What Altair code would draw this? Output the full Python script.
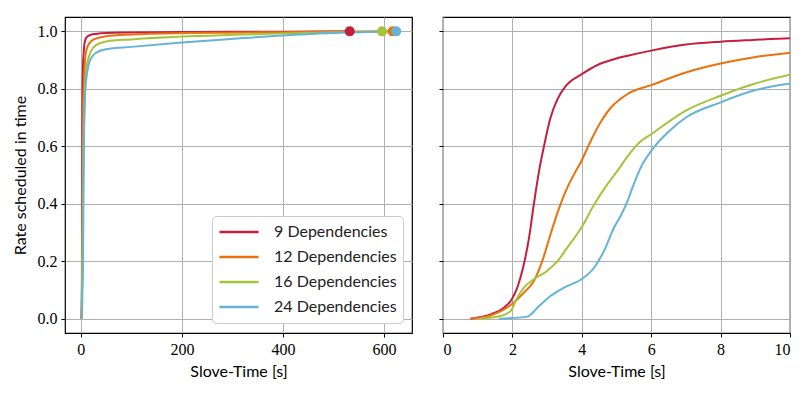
import altair as alt
import pandas as pd

series = ["9 Dependencies", "12 Dependencies", "16 Dependencies", "24 Dependencies"]
colors = ["#c61f3e", "#ea720d", "#a8c23a", "#63b4d6"]

t9 = [0.79, 1.37, 1.75, 1.98, 2.14, 2.33, 2.48, 2.62, 2.77, 2.91, 3.10, 3.30, 3.54, 4.0, 4.45, 4.93, 5.32, 6.0, 7.0, 8.0, 8.93, 10.0,
      12, 15, 20, 30, 50, 100, 200, 400, 532]
r9 = [0.0, 0.015, 0.038, 0.067, 0.108, 0.189, 0.282, 0.40, 0.515, 0.60, 0.70, 0.764, 0.81, 0.851, 0.883, 0.903, 0.915, 0.933, 0.954, 0.964, 0.97, 0.976,
      0.98, 0.984, 0.988, 0.991, 0.994, 0.996, 0.998, 0.999, 1.0]

t12 = [0.80, 1.37, 1.98, 2.33, 2.62, 2.86, 3.10, 3.30, 3.54, 3.78, 3.99, 4.26, 4.55, 4.84, 5.13, 5.32, 6.0, 7.0, 8.0, 8.93, 10.0,
       12, 15, 20, 30, 50, 100, 200, 400, 617]
r12 = [0.0, 0.011, 0.05, 0.09, 0.131, 0.2, 0.294, 0.369, 0.445, 0.503, 0.549, 0.619, 0.685, 0.735, 0.766, 0.782, 0.813, 0.857, 0.888, 0.909, 0.926,
       0.94, 0.953, 0.965, 0.975, 0.983, 0.989, 0.994, 0.997, 1.0]

t16 = [1.08, 1.66, 1.95, 2.14, 2.33, 2.62, 3.0, 3.3, 3.58, 3.99, 4.36, 4.74, 5.03, 5.32, 5.66, 6.0, 7.0, 8.0, 8.93, 10.0,
       12, 15, 20, 30, 50, 100, 200, 300, 400, 596]
r16 = [0.0, 0.009, 0.027, 0.073, 0.108, 0.137, 0.166, 0.2, 0.247, 0.317, 0.398, 0.468, 0.515, 0.565, 0.613, 0.642, 0.724, 0.776, 0.816, 0.849,
       0.88, 0.905, 0.93, 0.952, 0.965, 0.972, 0.982, 0.988, 0.993, 1.0]

t24 = [1.61, 2.43, 2.72, 3.10, 3.49, 3.99, 4.36, 4.64, 4.93, 5.13, 5.32, 5.46, 5.75, 6.0, 6.53, 7.0, 8.0, 8.93, 10.0,
       12, 15, 20, 30, 50, 100, 200, 300, 400, 500, 624]
r24 = [0.0, 0.007, 0.038, 0.079, 0.108, 0.137, 0.178, 0.236, 0.317, 0.36, 0.41, 0.456, 0.538, 0.584, 0.654, 0.70, 0.753, 0.793, 0.819,
       0.85, 0.88, 0.905, 0.925, 0.938, 0.946, 0.961, 0.974, 0.986, 0.994, 1.0]

times = [t9, t12, t16, t24]
rates = [r9, r12, r16, r24]

rows = []
for i, (name, ts, rs) in enumerate(zip(series, times, rates)):
    for t, r in zip(ts, rs):
        rows.append({"series": name, "order": i, "t": t, "rate": r})
df = pd.DataFrame(rows)
ends = pd.DataFrame({"series": series, "t": [ts[-1] for ts in times], "rate": [rs[-1] for rs in rates]})

SERIF = "Liberation Serif"
SANS = "Lato"

color_scale = alt.Scale(domain=series, range=colors)
yscale = alt.Scale(domain=[-0.05, 1.05], nice=False, zero=False)

def yaxis(labels):
    if labels:
        return alt.Axis(values=[0, 0.2, 0.4, 0.6, 0.8, 1.0], format=".1f", title="Rate scheduled in time",
                        titlePadding=9)
    return alt.Axis(values=[0, 0.2, 0.4, 0.6, 0.8, 1.0], labels=False, title=None)

W, H = 347, 316

left_line = alt.Chart(df).mark_line(strokeWidth=2, interpolate="monotone").encode(
    x=alt.X("t:Q", scale=alt.Scale(domain=[-31.2, 655.2], nice=False, zero=False),
            axis=alt.Axis(values=[0, 200, 400, 600], title="Slove-Time [s]")),
    y=alt.Y("rate:Q", scale=yscale, axis=yaxis(True)),
    color=alt.Color("series:N", scale=color_scale, sort=series,
                    legend=alt.Legend(title=None, orient="none", legendX=147, legendY=199,
                                      symbolType="stroke", symbolSize=1521, symbolStrokeWidth=2.5,
                                      clipHeight=20, labelOffset=14,
                                      labelFont=SANS, labelFontSize=16, labelColor="#222",
                                      fillColor="white", strokeColor="#cccccc", cornerRadius=4,
                                      padding=6, rowPadding=5)),
    order="order:Q",
    detail="series:N",
)
left_dots = alt.Chart(ends).mark_circle(size=100, opacity=1).encode(
    x="t:Q", y="rate:Q",
    color=alt.Color("series:N", scale=color_scale, legend=None),
)
left = alt.layer(left_line, left_dots).properties(width=W, height=H)

right = alt.Chart(df).mark_line(strokeWidth=2, interpolate="monotone", clip=True).encode(
    x=alt.X("t:Q", scale=alt.Scale(domain=[0, 10], nice=False, zero=False),
            axis=alt.Axis(values=[0, 2, 4, 6, 8, 10], title="Slove-Time [s]")),
    y=alt.Y("rate:Q", scale=yscale, axis=yaxis(False)),
    color=alt.Color("series:N", scale=color_scale, legend=None),
    detail="series:N",
).properties(width=W, height=H)

chart = alt.hconcat(left, right, spacing=24).resolve_scale(x="independent", color="shared").configure_view(
    stroke="black", strokeWidth=1.2
).configure_axis(
    domain=False, grid=True, gridColor="#b0b0b0", gridWidth=1, tickColor="black", tickSize=4,
    labelFont=SERIF, labelFontSize=16, labelColor="black", labelPadding=4,
    titleFont=SANS, titleFontSize=16, titleFontWeight="normal", titleColor="black", titlePadding=6,
).properties(padding={"left": 3, "top": 8, "right": 5, "bottom": 5})

chart.save("out.html", embed_options={"renderer": "svg", "actions": False})
